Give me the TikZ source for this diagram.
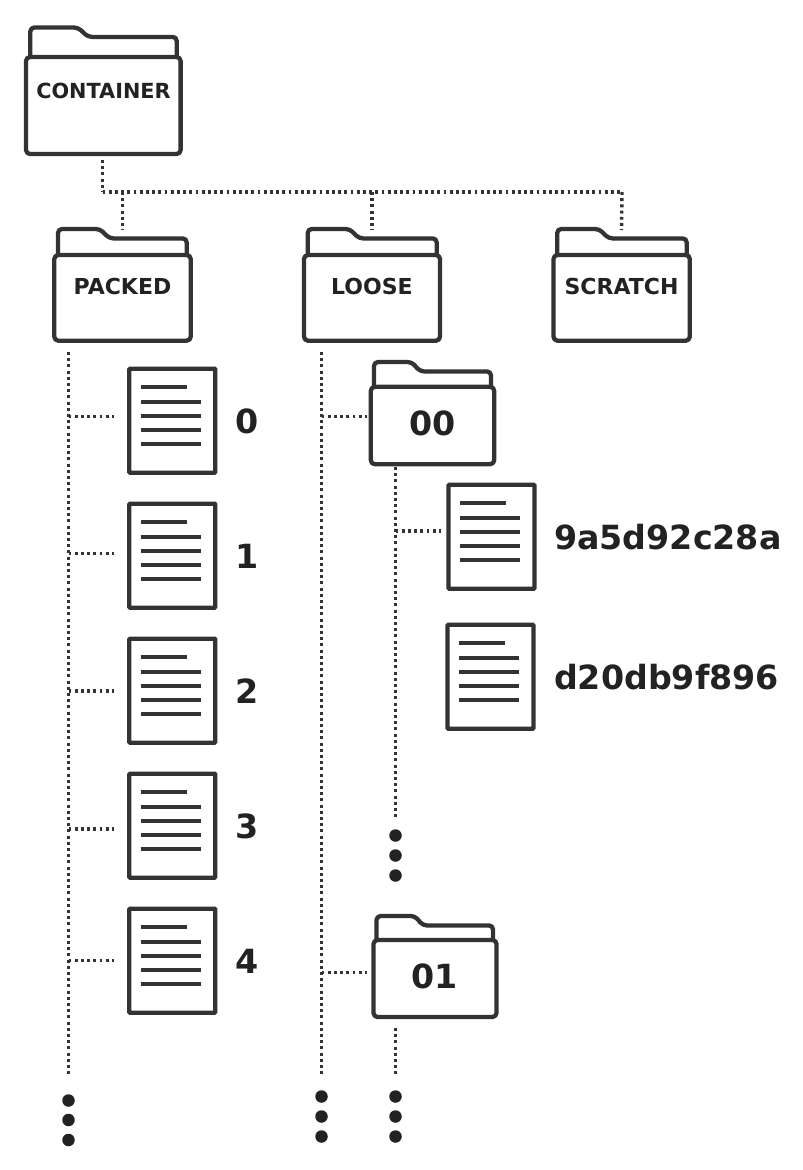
\documentclass[tikz,border=0pt]{standalone}
\usepackage{fontspec}
\setmainfont{DejaVu Sans}
\definecolor{ink}{HTML}{333333}
\definecolor{txt}{HTML}{222222}
\tikzset{
  every node/.style={outer sep=0pt,inner sep=0pt},
  x=1pt,y=-1pt,
  bodybox/.style={draw=ink,line width=4.3pt,rounded corners=4pt,fill=white,line join=round},
  tabline/.style={draw=ink,line width=4.3pt,rounded corners=4pt,line join=round},
  docbox/.style={draw=ink,line width=4.2pt,fill=white,rounded corners=0.8pt},
  docline/.style={draw=ink,line width=4.3pt},
  dots/.style={draw=ink,line width=3.4pt,dash pattern=on 2.9pt off 3.3pt},
  blob/.style={circle,fill=txt,minimum size=12.5pt},
  smalllabel/.style={text=txt,font=\fontsize{22}{22}\selectfont\bfseries,anchor=base},
  biglabel/.style={text=txt,font=\fontsize{33.3}{33.3}\selectfont\bfseries,anchor=base},
  namelabel/.style={text=txt,font=\fontsize{33.3}{33.3}\selectfont\bfseries,anchor=base west},
}
% name, x1,y1,x2,y2, tabx1,taby1,tabflat,tabslopex (right end of tab in \tabright)
\newcommand{\dofolder}[9]{%
  \draw[tabline] (#6,#3) -- (#6,#7) -- (#8,#7) -- (#9,{#7+9.4}) -- (\tabright,{#7+9.4}) -- (\tabright,#3);
  \node[bodybox,minimum width={#4-#2},minimum height={#5-#3},anchor=north west] (#1) at (#2,#3) {};
}
\newcommand{\dodoc}[3]{%
  \node[docbox,minimum width=86pt,minimum height=104pt,anchor=north west] (#1) at (#2,#3) {};
  \begin{scope}[shift={(#2,#3)}]
    \draw[docline] (11.4,18.6) -- (57.4,18.6);
    \foreach \ly in {33,47,61.3,75.3} {\draw[docline] (11.4,\ly) -- (71.4,\ly);}
  \end{scope}
}
\begin{document}
\begin{tikzpicture}
\useasboundingbox (0,0) rectangle (803,1170);
\fill[white] (0,0) rectangle (803,1170);

% folders
\def\tabright{176.7}\dofolder{container}{26}{57}{180.6}{154}{30.3}{27.5}{78}{88}
\def\tabright{186.7}\dofolder{packed}{54.3}{255}{190.7}{340.7}{58}{229}{100}{109.3}
\def\tabright{436.7}\dofolder{loose}{304}{255}{440}{340.7}{307.7}{229}{349.7}{359}
\def\tabright{686.7}\dofolder{scratch}{553.5}{255}{689.8}{340.7}{557.2}{229}{599.2}{608.5}
\def\tabright{491}\dofolder{f00}{370.8}{386.8}{494.2}{464.2}{374}{362}{411.7}{420}
\def\tabright{493}\dofolder{f01}{373.5}{940}{496.5}{1017}{376.5}{916}{415}{422.7}

\node[smalllabel,font=\fontsize{20.8}{20.8}\selectfont\bfseries] (lcontainer) at (103.5,98) {CONTAINER};
\node[smalllabel] (lpacked) at (122.5,294) {PACKED};
\node[smalllabel] (lloose) at (372,294) {LOOSE};
\node[smalllabel] (lscratch) at (621.5,294) {SCRATCH};
\node[biglabel] (l00) at (432.5,435.5) {00};
\node[biglabel] (l01) at (434.5,988.5) {01};

% documents
\dodoc{d0}{129.3}{368.7}
\dodoc{d1}{129.3}{503.7}
\dodoc{d2}{129.3}{638.7}
\dodoc{d3}{129.3}{773.7}
\dodoc{d4}{129.3}{908.7}
\dodoc{da}{448.5}{484.7}
\dodoc{db}{447.5}{624.7}

\node[biglabel] (l0) at (247.2,433.5) {0};
\node[biglabel] (l1) at (247.2,568.5) {1};
\node[biglabel] (l2) at (247.2,703.5) {2};
\node[biglabel] (l3) at (247.2,838.5) {3};
\node[biglabel] (l4) at (247.2,973.5) {4};
\node[namelabel] (la) at (554,549) {9a5d92c28a};
\node[namelabel] (lb) at (554,689) {d20db9f896};

% connector end points
\coordinate (c0) at (102.5,160);
\coordinate (c1) at (102.5,192);
\coordinate (c2) at (622,192);
\coordinate (cp) at (122.5,230);
\coordinate (cl) at (372,230);
\coordinate (cs) at (621.5,230);
\draw[dots] (c0) -- (c1);
\draw[dots] (c1) -- (c2);
\draw[dots] (c1 -| cp) -- (cp);
\draw[dots] (c1 -| cl) -- (cl);
\draw[dots] (c2 |- c1) -- (cs);

\coordinate (pt) at (68.5,352);
\coordinate (pe) at (68.5,1075);
\draw[dots] (pt) -- (pe);
\foreach \n/\yy in {0/416.5,1/553.5,2/691,3/829,4/960.5} {
  \coordinate (pb\n) at (114,\yy);
  \draw[dots] (pt |- pb\n) -- (pb\n);
}
\coordinate (lt) at (321.5,352);
\coordinate (le) at (321.5,1075);
\draw[dots] (lt) -- (le);
\coordinate (lb0) at (367,416.5);
\coordinate (lb1) at (367,972.5);
\draw[dots] (lt |- lb0) -- (lb0);
\draw[dots] (lt |- lb1) -- (lb1);

\coordinate (at) at (395.5,467);
\coordinate (ae) at (395.5,820);
\coordinate (ab) at (441,531);
\draw[dots] (at) -- (ae);
\draw[dots] (at |- ab) -- (ab);

\coordinate (bt) at (395.5,1028);
\coordinate (be) at (395.5,1075);
\draw[dots] (bt) -- (be);

% ellipsis dots
\foreach \n/\yy in {1/1100.5,2/1120,3/1140} {\node[blob] (pd\n) at (68.5,\yy) {};}
\foreach \n/\yy in {1/1096.5,2/1116.5,3/1136.5} {
  \node[blob] (ld\n) at (321.5,\yy) {};
  \node[blob] (bd\n) at (395.5,\yy) {};
}
\foreach \n/\yy in {1/835.5,2/855.5,3/875.5} {\node[blob] (ad\n) at (395.5,\yy) {};}
\end{tikzpicture}
\end{document}
